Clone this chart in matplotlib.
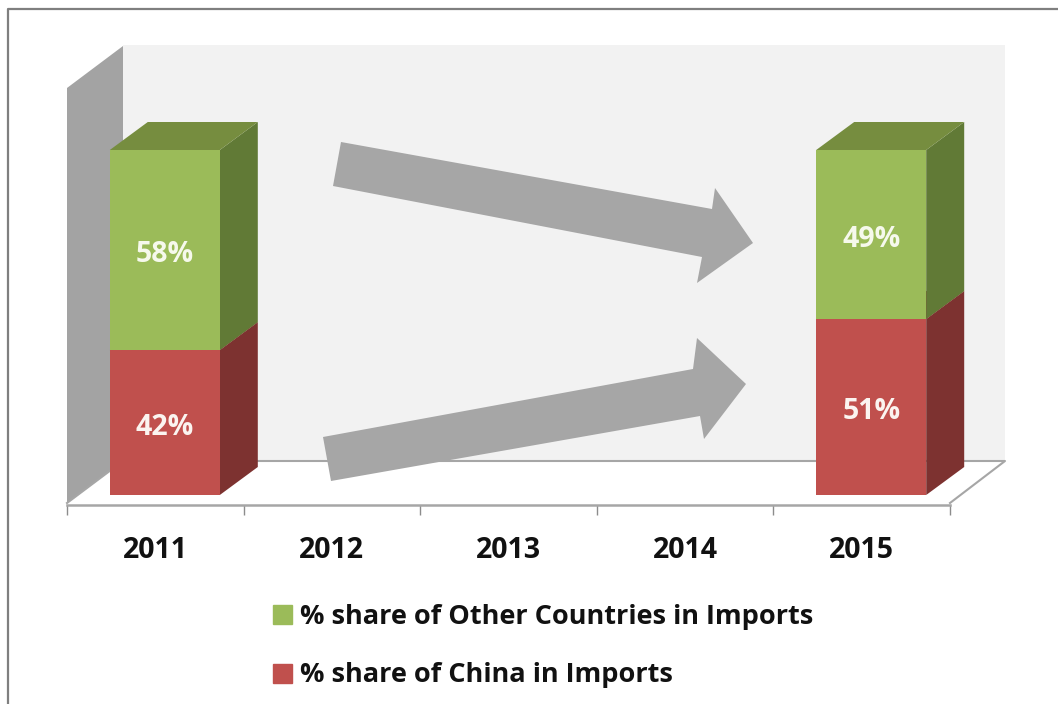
import matplotlib
matplotlib.use('Agg')
import matplotlib.pyplot as plt
from matplotlib.patches import Polygon, Patch
from matplotlib.transforms import ScaledTranslation

years = ['2011', '2012', '2013', '2014', '2015']
bar_pos = [0, 4]
china = [42, 51]
other = [58, 49]

W, H = 1058, 704
DPI = 100
plt.rcParams['font.family'] = ['Open Sans', 'DejaVu Sans']

GREEN, GREEN_TOP, GREEN_SIDE = '#9bbb59', '#768d3f', '#617a36'
RED, RED_TOP, RED_SIDE = '#c0504d', '#94403c', '#7d3230'
GREY = '#a6a6a6'

fig = plt.figure(figsize=(W / DPI, H / DPI), dpi=DPI)

# background layer is in plain pixels: frame, walls, floor, the two arrows
bg = fig.add_axes([0, 0, 1, 1], zorder=0)
bg.set_xlim(0, W)
bg.set_ylim(H, 0)
bg.axis('off')
bg.plot([8, 8, W], [H, 9, 9], color='#7f7f7f', lw=1.6)
bg.add_patch(Polygon([(123, 45), (1005, 45), (1005, 461), (123, 461)], fc='#f2f2f2', ec='none'))
bg.add_patch(Polygon([(67, 88), (123, 46), (123, 461), (67, 503)], fc='#a3a3a3', ec='none'))
bg.add_patch(Polygon([(67, 503), (123, 461), (1005, 461), (950, 503)], fc='white', ec='none'))
bg.plot([67, 123, 1005, 950], [503, 461, 461, 503], color='#a6a6a6', lw=1.5)
bg.add_patch(Polygon([(341, 142), (712, 209), (715, 188), (753, 243), (697, 283), (702, 257), (333, 186)],
                     fc=GREY, ec='none', zorder=3))
bg.add_patch(Polygon([(323, 437), (693, 369), (697, 338), (746, 384), (704, 439), (700, 416), (331, 481)],
                     fc=GREY, ec='none', zorder=3))

# chart axes, front edge of the floor
ax = fig.add_axes([67 / W, 1 - 505 / H, 883 / W, 345 / H], zorder=1)
ax.patch.set_alpha(0)
ax.set_xlim(-0.5, 4.5)
ax.set_ylim(0, 100)
for s in ['top', 'left', 'right']:
    ax.spines[s].set_visible(False)
ax.spines['bottom'].set_color('#a6a6a6')
ax.spines['bottom'].set_linewidth(1.8)
ax.set_yticks([])
ax.set_xticks(range(5))
ax.set_xticklabels(years, fontsize=20.5, fontweight='bold', color='#111111')
ax.tick_params(axis='x', which='major', length=0, pad=22)
ax.set_xticks([i - 0.5 for i in range(6)], minor=True)
ax.tick_params(axis='x', which='minor', length=7, width=1, color='#8c8c8c')

# bars stand a little behind the front edge
shift = ax.transData + ScaledTranslation(9.5 / DPI, 10 / DPI, fig.dpi_scale_trans)
label_shift = ax.transData + ScaledTranslation(9.5 / DPI, 5.5 / DPI, fig.dpi_scale_trans)
bar_w = 110 / 176.6
dx = 38 / 176.6
dy = 28 / 3.45


def box(x, low, high, front, top, side):
    l, r = x - bar_w / 2, x + bar_w / 2
    ax.bar(x, high - low, bar_w, bottom=low, color=front, transform=shift, clip_on=False, zorder=3)
    ax.add_patch(Polygon([(r, low), (r + dx, low + dy), (r + dx, high + dy), (r, high)],
                         fc=side, ec='none', transform=shift, clip_on=False, zorder=2))
    ax.add_patch(Polygon([(l, high), (l + dx, high + dy), (r + dx, high + dy), (r, high)],
                         fc=top, ec='none', transform=shift, clip_on=False, zorder=2))


for x, c, o in zip(bar_pos, china, other):
    box(x, 0, c, RED, RED_TOP, RED_SIDE)
    box(x, c, c + o, GREEN, GREEN_TOP, GREEN_SIDE)
    ax.text(x, c / 2, '%d%%' % c, color='#fbf4f0', fontsize=20.5, fontweight='bold',
            ha='center', va='center', transform=label_shift, zorder=4)
    ax.text(x, c + o / 2, '%d%%' % o, color='#f6f9ec', fontsize=20.5, fontweight='bold',
            ha='center', va='center', transform=label_shift, zorder=4)

handles = [Patch(color=GREEN), Patch(color=RED)]
labels = ['% share of Other Countries in Imports', '% share of China in Imports']
fig.legend(handles, labels, loc='upper left', bbox_to_anchor=(273 / W, 1 - 604 / H), bbox_transform=fig.transFigure,
           frameon=False, prop={'size': 19.5, 'weight': 'bold'}, labelcolor='#111111', borderpad=0, borderaxespad=0,
           handlelength=0.7, handleheight=0.7, handletextpad=0.3, labelspacing=1.2)

fig.savefig('out.png', dpi=DPI)
